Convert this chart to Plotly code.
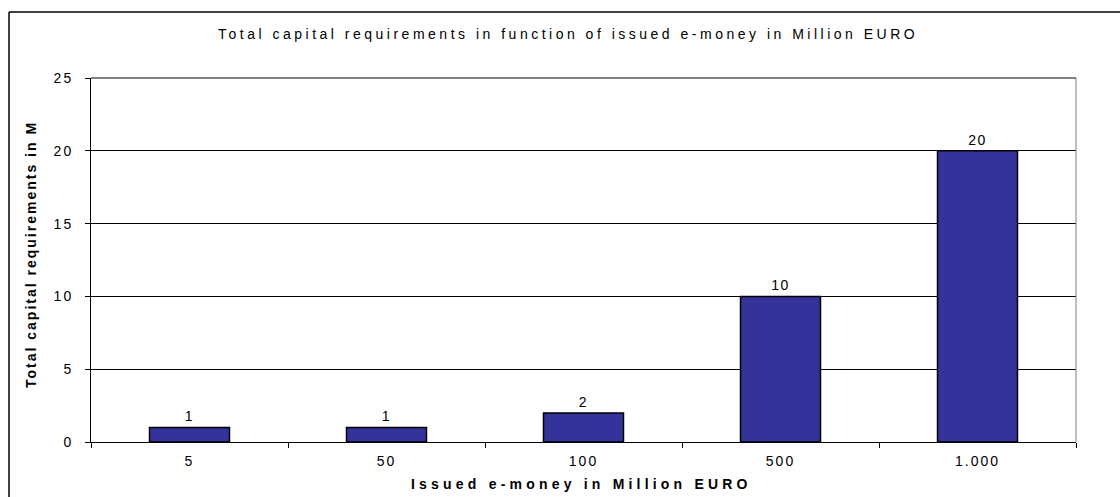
import plotly.graph_objects as go

# ---- data ----
categories = ["5", "50", "100", "500", "1.000"]
values = [1, 1, 2, 10, 20]
y_ticks = [0, 5, 10, 15, 20, 25]
title_text = "Total capital requirements in function of issued e-money in Million EURO"
x_title = "Issued e-money in Million EURO"
y_title = "Total capital requirements in M"

W, H = 1120, 497
L, R, T, B = 91, 1076, 78, 442
FONT = "Arial, 'Liberation Sans', sans-serif"


def px_x(px):
    return (px - L) / (R - L)


def px_y(py):
    return (B - py) / (B - T)


def sp(text, s):
    return f'<span style="letter-spacing:{s}px">{text}</span>'


fig = go.Figure()
fig.add_trace(go.Bar(
    x=categories,
    y=values,
    width=0.406,
    marker=dict(color="#333399", line=dict(color="#000000", width=1.5)),
    text=[sp(str(v), 1.5) for v in values],
    textposition="outside",
    textfont=dict(family=FONT, size=14, color="#000000"),
    cliponaxis=False,
))

fig.update_layout(
    width=W, height=H,
    margin=dict(l=L, r=W - R, t=T, b=H - B, pad=0),
    paper_bgcolor="white", plot_bgcolor="white",
    showlegend=False,
    font=dict(family=FONT, size=14, color="#000000"),
    xaxis=dict(
        type="category",
        tickmode="array", tickvals=categories,
        ticktext=[sp(c, 2) for c in categories],
        tickson="boundaries", ticks="outside", ticklen=5, tickcolor="#000000",
        showline=True, linecolor="#000000", linewidth=1,
        showgrid=False, zeroline=False,
        ticklabelstandoff=6,
        tickfont=dict(family=FONT, size=14, color="#000000"),
        range=[-0.5, 4.5],
    ),
    yaxis=dict(
        range=[0, 25],
        tickmode="array", tickvals=y_ticks,
        ticktext=[sp(str(t), 2) for t in y_ticks],
        ticks="outside", ticklen=5, tickcolor="#000000",
        showline=True, linecolor="#000000", linewidth=1,
        showgrid=True, gridcolor="#000000", gridwidth=1,
        zeroline=False,
        ticklabelstandoff=9,
        tickfont=dict(family=FONT, size=14, color="#000000"),
    ),
    shapes=[
        # outer chart border (left and top edges)
        dict(type="line", xref="paper", yref="paper",
             x0=px_x(9), x1=px_x(9), y0=px_y(500), y1=px_y(12),
             line=dict(color="#000000", width=1.5), layer="below"),
        dict(type="line", xref="paper", yref="paper",
             x0=px_x(9), x1=px_x(1125), y0=px_y(12), y1=px_y(12),
             line=dict(color="#000000", width=1.5), layer="below"),
        # plot area right border
        dict(type="line", xref="paper", yref="paper",
             x0=1, x1=1, y0=0, y1=1,
             line=dict(color="#808080", width=1)),
        # top gridline at 25
        dict(type="line", xref="paper", yref="paper",
             x0=0, x1=1, y0=1, y1=1,
             line=dict(color="#000000", width=1)),
    ],
    annotations=[
        dict(text=sp(title_text, 3.5), xref="paper", yref="paper",
             x=px_x(568), y=px_y(34), xanchor="center", yanchor="middle",
             showarrow=False, font=dict(family=FONT, size=14, color="#000000")),
        dict(text="<b>" + sp(x_title, 4.2) + "</b>", xref="paper", yref="paper",
             x=px_x(581), y=px_y(484), xanchor="center", yanchor="middle",
             showarrow=False, font=dict(family=FONT, size=14, color="#000000")),
        dict(text="<b>" + sp(y_title, 2.0) + "</b>", xref="paper", yref="paper",
             x=px_x(31), y=px_y(255), xanchor="center", yanchor="middle",
             textangle=-90,
             showarrow=False, font=dict(family=FONT, size=14, color="#000000")),
    ],
)

fig.write_html("out.html")
